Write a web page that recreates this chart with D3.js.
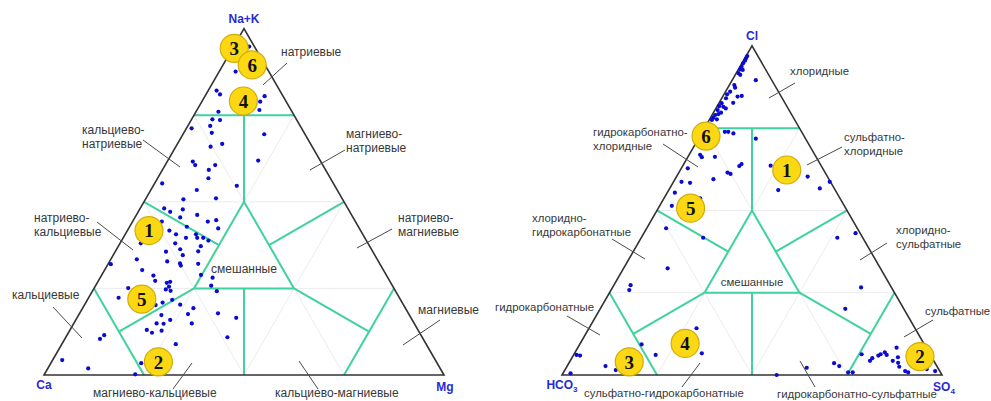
<!DOCTYPE html>
<html>
<head>
<meta charset="utf-8">
<script src="https://cdn.jsdelivr.net/npm/d3@7"></script>
<style>
  html, body { margin: 0; padding: 0; background: #fff; }
  svg { display: block; }
</style>
</head>
<body>
<script>
// ---- Cation composition, % equivalents (Ca, Mg, Na+K) ----
const cationCa = [1.3, 8.3, 15.8, 15.5, 4.6, 6.5, 7.9, 18.4, 21.0, 19.2, 27.5, 22.5, 23.1, 10.2, 25.4, 22.1, 32.0, 31.9, 26.9, 29.2,
  15.5, 30.5, 42.8, 24.5, 35.1, 31.5, 39.8, 45.9, 44.9, 41.4, 43.2, 38.6, 36.9, 34.6, 35.3, 48.4, 42.9, 47.8, 46.7, 44.7,
  41.7, 41.9, 40.4, 39.5, 48.2, 42.2, 56.8, 47.8, 43.6, 51.7, 48.0, 67.3, 60.1, 52.8, 49.9, 50.0, 45.4, 60.3, 58.3, 46.3,
  43.8, 58.6, 56.0, 55.0, 56.0, 66.4, 45.3, 44.7, 57.2, 56.2, 70.2, 57.1, 62.0, 59.9, 55.8, 53.0, 55.2, 47.6, 43.7, 62.0,
  60.5, 64.4, 62.7, 55.6, 67.8, 66.9, 64.2, 79.2, 80.8, 48.7, 62.6, 93.3, 88.0, 74.0, 77.1];
const cationMg = [3.9, 4.1, 2.1, 3.5, 14.9, 14.6, 15.6, 5.6, 5.2, 7.2, 1.3, 5.6, 7.0, 20.3, 8.7, 11.2, 6.4, 7.5, 12.5, 11.6,
  22.6, 12.7, 1.9, 20.9, 11.5, 17.5, 9.5, 6.0, 8.0, 10.8, 11.3, 15.2, 18.8, 20.7, 22.4, 7.3, 14.3, 10.5, 12.7, 15.7,
  17.7, 18.5, 20.0, 21.7, 13.8, 20.6, 5.2, 15.9, 20.7, 12.7, 17.4, 0.7, 6.5, 14.4, 17.9, 18.4, 22.5, 9.4, 13.0, 24.8,
  28.1, 14.2, 17.4, 18.1, 18.5, 8.5, 28.9, 31.1, 18.1, 19.5, 7.5, 21.2, 17.8, 19.2, 23.9, 27.7, 27.2, 34.6, 39.8, 20.7,
  23.6, 20.7, 22.5, 29.5, 19.2, 20.9, 23.0, 9.3, 8.8, 40.4, 28.5, 2.4, 10.1, 22.6, 22.7];
const cationNaK = [94.8, 87.6, 82.1, 81.0, 80.5, 78.9, 76.5, 76.0, 73.8, 73.6, 71.2, 71.9, 69.9, 69.5, 65.9, 66.7, 61.6, 60.6, 60.6, 59.2,
  61.9, 56.8, 55.3, 54.6, 53.4, 51.0, 50.7, 48.1, 47.1, 47.8, 45.5, 46.2, 44.3, 44.7, 42.3, 44.3, 42.8, 41.7, 40.6, 39.6,
  40.6, 39.6, 39.6, 38.8, 38.0, 37.2, 38.0, 36.3, 35.7, 35.6, 34.6, 32.0, 33.4, 32.8, 32.2, 31.6, 32.1, 30.3, 28.7, 28.9,
  28.1, 27.2, 26.6, 26.9, 25.5, 25.1, 25.8, 24.2, 24.7, 24.3, 22.3, 21.7, 20.2, 20.9, 20.3, 19.3, 17.6, 17.8, 16.5, 17.3,
  15.9, 14.9, 14.8, 14.9, 13.0, 12.2, 12.8, 11.5, 10.4, 10.9, 8.9, 4.3, 1.9, 3.4, 0.2];

// ---- Anion composition, % equivalents (HCO3, SO4, Cl) ----
const anionHCO3 = [2.8, 3.5, 4.1, 5.0, 5.9, 6.7, 6.1, 7.7, 7.5, 4.2, 10.6, 10.8, 12.7, 13.9, 11.5, 10.3, 14.8, 13.6, 16.7, 17.8,
  16.8, 16.4, 18.8, 18.3, 20.2, 19.2, 21.1, 20.4, 21.8, 20.2, 19.3, 18.2, 13.1, 30.2, 30.1, 26.6, 20.7, 21.6, 35.5, 25.7,
  25.1, 30.4, 39.2, 37.1, 13.3, 5.2, 15.0, 42.6, 45.4, 36.8, 0.2, 3.8, 50.3, 42.0, 56.0, 68.3, 69.4, 57.5, 74.4, 59.9,
  72.3, 93.1, 92.3, 87.2, 85.1, 97.5, 6.7, 1.2, 8.0, 15.4, 34.5, 26.6, 25.7, 24.3, 23.1, 18.0, 16.8, 15.8, 13.8, 13.0,
  11.6, 11.5, 7.8, 8.9, 10.8, 9.7, 10.0, 9.1, 8.5, 3.1, 1.2, 43.5];
const anionSO4 = [0.3, 0.3, 0.4, 0.3, 0.4, 0.4, 1.2, 0.6, 1.3, 6.2, 1.3, 1.9, 1.2, 0.8, 3.9, 4.9, 1.1, 3.7, 0.7, 0.5,
  1.7, 2.6, 0.7, 2.0, 0.8, 1.5, 0.7, 1.9, 0.7, 5.9, 6.8, 8.4, 15.1, 2.9, 3.7, 7.1, 15.2, 14.9, 1.7, 12.8,
  13.8, 10.1, 2.1, 4.5, 23.1, 34.5, 28.8, 2.0, 3.2, 9.5, 41.1, 39.5, 5.1, 16.3, 11.6, 4.4, 4.8, 28.3, 16.3, 33.5,
  21.6, 0.8, 1.8, 10.1, 13.4, 2.0, 51.6, 55.7, 65.4, 64.5, 63.3, 69.8, 71.6, 74.9, 76.1, 75.7, 78.9, 79.1, 80.3, 80.7,
  81.5, 82.4, 83.9, 85.7, 84.9, 86.6, 87.5, 89.7, 90.7, 95.1, 97.6, 56.5];
const anionCl = [96.9, 96.2, 95.5, 94.7, 93.7, 92.9, 92.7, 91.7, 91.2, 89.6, 88.1, 87.3, 86.1, 85.3, 84.6, 84.8, 84.1, 82.7, 82.6, 81.7,
  81.5, 81.0, 80.5, 79.7, 79.0, 79.3, 78.2, 77.7, 77.5, 73.9, 73.9, 73.4, 71.8, 66.9, 66.2, 66.3, 64.1, 63.5, 62.8, 61.5,
  61.1, 59.5, 58.7, 58.4, 63.6, 60.3, 56.2, 55.4, 51.4, 53.7, 58.7, 56.7, 44.6, 41.7, 32.4, 27.3, 25.8, 14.2, 9.3, 6.6,
  6.1, 6.1, 5.9, 2.7, 1.5, 0.5, 41.7, 43.1, 26.6, 20.1, 2.2, 3.6, 2.7, 0.8, 0.8, 6.3, 4.3, 5.1, 5.9, 6.3,
  6.9, 6.1, 8.3, 5.4, 4.3, 3.7, 2.5, 1.2, 0.8, 1.8, 1.2, 0.0];

// ---- Numbered water groups (centres, %) ----
const groupNumbers = ["3", "6", "4", "1", "5", "2"];
const groupCa  = [5.3, 3.2, 10.6, 52.9, 64.6, 69.5];
const groupMg  = [0.4, 7.3, 10.3, 5.4, 13.5, 26.7];
const groupNaK = [94.3, 89.5, 79.1, 41.7, 21.9, 3.8];
const anionGroupNumbers = ["6", "5", "3", "4", "1", "2"];
const groupHCO3 = [25.8, 40.8, 80.3, 62.8, 9.7, 3.0];
const groupSO4  = [1.6, 8.5, 15.7, 27.6, 28.0, 91.4];
const groupCl   = [72.6, 50.7, 4.0, 9.6, 62.3, 5.6];

// ---- Classification boundaries (left, right, top components, %) ----
const boundaryLines = [
  [[25, 0, 75], [0, 25, 75]],
  [[75, 0, 25], [75, 25, 0]],
  [[0, 75, 25], [25, 75, 0]],
  [[50, 25, 25], [25, 50, 25], [25, 25, 50], [50, 25, 25]],
  [[12.5, 12.5, 75], [25, 25, 50]],
  [[37.5, 37.5, 25], [50, 50, 0]],
  [[50, 0, 50], [37.5, 25, 37.5]],
  [[50, 25, 25], [75, 12.5, 12.5]],
  [[0, 50, 50], [25, 37.5, 37.5]],
  [[25, 50, 25], [12.5, 75, 12.5]]
];
const gridLevels = [25, 50, 75];

const W = 991, H = 401;
const svg = d3.select("body").append("svg")
  .attr("width", W).attr("height", H)
  .attr("viewBox", `0 0 ${W} ${H}`);

const FONT = "'Liberation Sans', Arial, sans-serif";
const SERIF = "'Liberation Serif', 'Times New Roman', serif";
const BLUE = "#2a2ad2";
const GREEN = "#3fd29c";

const diagrams = [
  {
    x0: 44, side: 400, base: 375, fontSize: 12,
    a: cationCa, b: cationMg, c: cationNaK,
    gA: groupCa, gB: groupMg, gC: groupNaK, gN: groupNumbers,
    vertexLabels: [
      { parts: [["Na+K"]], at: "top", dx: 0, dy: -6 },
      { parts: [["Ca"]], at: "left", dx: 0, dy: 14 },
      { parts: [["Mg"]], at: "right", dx: 1, dy: 16 }
    ],
    regions: [
      { lines: ["натриевые"], x: 281, y: 56, leader: [[287, 63], [263, 85]] },
      { lines: ["кальциево-", "натриевые"], x: 82, y: 134, leader: [[143, 140], [180, 167]] },
      { lines: ["магниево-", "натриевые"], x: 346, y: 138, leader: [[345, 150], [310, 170]] },
      { lines: ["натриево-", "кальциевые"], x: 34, y: 222, leader: [[97, 222], [133, 250]] },
      { lines: ["натриево-", "магниевые"], x: 398, y: 222, leader: [[392, 229], [357, 248]] },
      { lines: ["кальциевые"], x: 12, y: 299, leader: [[53, 307], [82, 338]] },
      { lines: ["магниевые"], x: 418, y: 314, leader: [[440, 320], [403, 345]] },
      { lines: ["смешанные"], x: 244, y: 273, anchor: "middle" },
      { lines: ["магниево-кальциевые"], x: 93, y: 397, leader: [[192, 363], [173, 389]] },
      { lines: ["кальциево-магниевые"], x: 275, y: 397, leader: [[299, 361], [318, 389]] }
    ]
  },
  {
    x0: 562, side: 380, base: 375, fontSize: 11.4,
    a: anionHCO3, b: anionSO4, c: anionCl,
    gA: groupHCO3, gB: groupSO4, gC: groupCl, gN: anionGroupNumbers,
    vertexLabels: [
      { parts: [["Cl"]], at: "top", dx: 0, dy: -6 },
      { parts: [["HCO"], ["3", "sub"]], at: "left", dx: 0, dy: 14 },
      { parts: [["SO"], ["4", "sub"]], at: "right", dx: 2, dy: 16 }
    ],
    regions: [
      { lines: ["хлоридные"], x: 790, y: 75, leader: [[795, 83], [769, 98]] },
      { lines: ["гидрокарбонатно-", "хлоридные"], x: 593, y: 136, leader: [[663, 144], [698, 167]] },
      { lines: ["сульфатно-", "хлоридные"], x: 844, y: 140.5, leader: [[842, 147], [807, 165]] },
      { lines: ["хлоридно-", "гидрокарбонатные"], x: 532, y: 222, leader: [[612, 239], [645, 259]] },
      { lines: ["хлоридно-", "сульфатные"], x: 896, y: 234, leader: [[887, 243], [860, 260]] },
      { lines: ["гидрокарбонатные"], x: 495, y: 311, leader: [[567, 316], [600, 335]] },
      { lines: ["сульфатные"], x: 925, y: 314.5, leader: [[933, 320], [904, 337]] },
      { lines: ["смешанные"], x: 752, y: 286, anchor: "middle" },
      { lines: ["сульфатно-гидрокарбонатные"], x: 584, y: 397, leader: [[700, 363], [682, 387]] },
      { lines: ["гидрокарбонатно-сульфатные"], x: 777, y: 397.5, leader: [[800, 361], [815, 387]] }
    ]
  }
];

diagrams.forEach(d => {
  const h = d.side * Math.sqrt(3) / 2;
  const xs = d3.scaleLinear().domain([0, 100]).range([d.x0, d.x0 + d.side]);
  const ys = d3.scaleLinear().domain([0, 100]).range([d.base, d.base - h]);
  // (left, right, top) percentages -> screen point
  const project = (a, b, c) => [xs(b + c / 2), ys(c)];
  const line = d3.line().x(p => project(...p)[0]).y(p => project(...p)[1]);
  const g = svg.append("g");

  // faint 25% grid
  const grid = [];
  gridLevels.forEach(v => {
    const r = 100 - v;
    grid.push([[r, 0, v], [0, r, v]]);
    grid.push([[v, r, 0], [v, 0, r]]);
    grid.push([[r, v, 0], [0, v, r]]);
  });
  g.selectAll(".grid").data(grid).join("path")
    .attr("d", line).attr("fill", "none")
    .attr("stroke", "#ececec").attr("stroke-width", 1);

  // classification boundaries
  g.selectAll(".bnd").data(boundaryLines).join("path")
    .attr("d", line).attr("fill", "none")
    .attr("stroke", GREEN).attr("stroke-width", 2)
    .attr("stroke-linejoin", "miter");

  // outer triangle
  g.append("path")
    .attr("d", line([[100, 0, 0], [0, 100, 0], [0, 0, 100], [100, 0, 0]]) + "Z")
    .attr("fill", "none").attr("stroke", "#333").attr("stroke-width", 1.6)
    .attr("stroke-linejoin", "miter");

  // region names and leaders
  d.regions.forEach(r => {
    if (r.leader) {
      g.append("line")
        .attr("x1", r.leader[0][0]).attr("y1", r.leader[0][1])
        .attr("x2", r.leader[1][0]).attr("y2", r.leader[1][1])
        .attr("stroke", "#4a4a4a").attr("stroke-width", 1);
    }
    const t = g.append("text")
      .attr("x", r.x).attr("y", r.y)
      .attr("text-anchor", r.anchor || "start")
      .attr("font-family", FONT).attr("font-size", d.fontSize)
      .attr("fill", "#383838");
    r.lines.forEach((s, i) => {
      t.append("tspan").attr("x", r.x).attr("dy", i === 0 ? 0 : 14.2).text(s);
    });
  });

  // sample points
  const pts = d.a.map((_, i) => project(d.a[i], d.b[i], d.c[i]));
  g.selectAll(".pt").data(pts).join("circle")
    .attr("cx", p => p[0]).attr("cy", p => p[1]).attr("r", 2.1)
    .attr("fill", "#0a0ad2");

  // numbered groups
  const gp = d.gN.map((n, i) => ({ n, p: project(d.gA[i], d.gB[i], d.gC[i]) }));
  const badges = g.selectAll(".badge").data(gp).join("g")
    .attr("transform", o => `translate(${o.p[0]},${o.p[1]})`);
  badges.append("circle").attr("r", 14)
    .attr("fill", "#fbd714").attr("stroke", "#cfae0c").attr("stroke-width", 1.2);
  badges.append("text").text(o => o.n)
    .attr("text-anchor", "middle").attr("dy", "0.36em")
    .attr("font-family", SERIF).attr("font-weight", "bold").attr("font-size", 19)
    .attr("fill", "#111");

  // vertex names
  const corners = { left: project(100, 0, 0), right: project(0, 100, 0), top: project(0, 0, 100) };
  d.vertexLabels.forEach(v => {
    const c = corners[v.at];
    const t = g.append("text")
      .attr("x", c[0] + v.dx).attr("y", c[1] + v.dy)
      .attr("text-anchor", "middle")
      .attr("font-family", FONT).attr("font-weight", "bold").attr("font-size", 12)
      .attr("fill", BLUE);
    v.parts.forEach(([s, kind]) => {
      const ts = t.append("tspan").text(s);
      if (kind === "sub") ts.attr("font-size", 8).attr("dy", 3);
    });
  });
});
</script>
</body>
</html>
